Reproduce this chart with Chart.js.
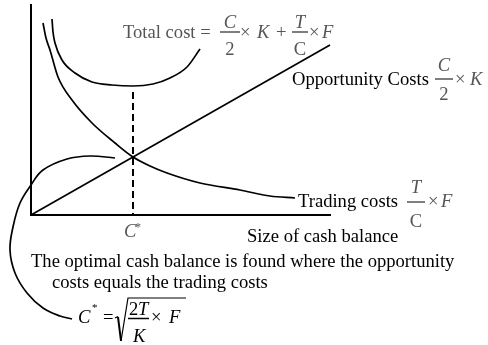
<!DOCTYPE html>
<html><head><meta charset="utf-8">
<script src="https://cdn.jsdelivr.net/npm/chart.js@4"></script>
<style>html,body{margin:0;padding:0;background:#fff}</style>
</head><body>
<canvas id="c" width="488" height="345"></canvas>
<script>
// Axis units: x = size of cash balance, y = cost (both)
const xMax = 299;
const yMax = 210;
const opportunityCosts = [[0, 0], [299, 170]];
const tradingCosts = [[12,192],[15,177],[19,165],[27,138],[41,115],[61,92],[84,72],[102,58],[119,49],[136,42],[169,32],[209,25],[239,19],[264,17]];
const totalCost = [[21,196],[22,183],[24,172],[31,155],[44,142],[61,133],[81,130],[102,129],[122,131],[139,137],[156,148],[169,166]];
const optimalC = 102;
const optimalMarker = [[optimalC, 123], [optimalC, 0]];
const bracketCurve = [[84,57],[59,59],[36,56],[12,45],[0,30],[-11,12],[-18,-12],[-21,-35],[-16,-58],[-4,-78],[12,-93],[29,-101],[41,-104]];

const pts = a => a.map(([x, y]) => ({x, y}));
const line = (data, extra) => Object.assign({
  data: pts(data), borderColor: '#000', borderWidth: 1.7, pointRadius: 0,
  fill: false, tension: 0.4, clip: false
}, extra || {});

const SERIF = '"Liberation Serif", "Times New Roman", serif';
const GRAY = '#555';
const FS = 18.6;

const textPlugin = {
  id: 'texts',
  afterDraw(chart) {
    const ctx = chart.ctx;
    ctx.save();
    ctx.textBaseline = 'alphabetic';
    const t = (s, x, y, color, italic, size, align) => {
      ctx.font = (italic ? 'italic ' : '') + (size || FS) + 'px ' + SERIF;
      ctx.fillStyle = color || '#000';
      ctx.textAlign = align || 'left';
      ctx.fillText(s, x, y);
    };
    const bar = (x1, x2, y, color) => {
      ctx.strokeStyle = color; ctx.lineWidth = 1.5;
      ctx.beginPath(); ctx.moveTo(x1, y); ctx.lineTo(x2, y); ctx.stroke();
    };
    const frac = (num, numIt, den, denIt, cx, x1, x2, by, nb, db, color) => {
      t(num, cx, nb, color, numIt, FS, 'center');
      t(den, cx, db, color, denIt, FS, 'center');
      bar(x1, x2, by, color);
    };
    // Total cost formula (gray)
    t('Total cost =', 123, 38, GRAY);
    frac('C', true, '2', false, 230, 220, 240, 32, 28, 55, GRAY);
    t('\u00D7', 240, 38, GRAY);
    t('K', 257, 38, GRAY, true);
    t('+', 276, 38, GRAY);
    frac('T', true, 'C', false, 300, 292, 308, 32, 28, 55, GRAY);
    t('\u00D7', 309, 38, GRAY);
    t('F', 322, 38, GRAY, true);
    // Opportunity costs
    t('Opportunity Costs', 292, 85, '#000');
    frac('C', true, '2', false, 444, 435, 453, 79, 71, 100, GRAY);
    t('\u00D7', 455, 85, GRAY);
    t('K', 470, 85, GRAY, true);
    // Trading costs
    t('Trading costs', 298, 207, '#000');
    frac('T', true, 'C', false, 416, 407, 425, 202, 193, 227, GRAY);
    t('\u00D7', 428, 207, GRAY);
    t('F', 441, 207, GRAY, true);
    // axis labels
    t('Size of cash balance', 247, 242, '#000');
    t('C', 124, 237, GRAY, true);
    t('*', 135, 231, GRAY, false, 12);
    // explanation
    t('The optimal cash balance is found where the opportunity', 31, 267, '#000');
    t('costs equals the trading costs', 52, 288, '#000');
    // formula
    t('C', 78, 323, '#000', true);
    t('*', 92, 311, '#000', false, 11);
    t('=', 103, 323, '#000');
    ctx.strokeStyle = '#000'; ctx.lineWidth = 1.3;
    ctx.beginPath();
    ctx.moveTo(115, 318); ctx.lineTo(118, 316.5); ctx.stroke();
    ctx.lineWidth = 2;
    ctx.beginPath(); ctx.moveTo(118, 317); ctx.lineTo(121, 341); ctx.stroke();
    ctx.lineWidth = 1.2;
    ctx.beginPath(); ctx.moveTo(121, 341); ctx.lineTo(128, 298); ctx.lineTo(186, 298); ctx.stroke();
    t('2', 129, 315, '#000');
    t('T', 138, 315, '#000', true);
    bar(128, 149, 318.5, '#000');
    t('K', 133, 342, '#000', true);
    t('\u00D7', 151, 323, '#000');
    t('F', 169, 323, '#000', true);
    ctx.restore();
  }
};

new Chart(document.getElementById('c'), {
  type: 'line',
  data: {
    datasets: [
      line(opportunityCosts, {tension: 0}),
      line(tradingCosts, {cubicInterpolationMode: 'monotone'}),
      line(totalCost, {cubicInterpolationMode: 'monotone'}),
      line(optimalMarker, {tension: 0, borderDash: [7, 4], borderWidth: 2}),
      line(bracketCurve)
    ]
  },
  options: {
    responsive: false,
    animation: false,
    devicePixelRatio: 1,
    layout: {padding: {left: 31, top: 5, right: 158, bottom: 130}},
    plugins: {legend: {display: false}, tooltip: {enabled: false}},
    scales: {
      x: {type: 'linear', min: 0, max: xMax,
          ticks: {display: false}, grid: {display: false, drawTicks: false},
          border: {display: true, color: '#000', width: 2}},
      y: {type: 'linear', min: 0, max: yMax,
          ticks: {display: false}, grid: {display: false, drawTicks: false},
          border: {display: true, color: '#000', width: 2}}
    }
  },
  plugins: [textPlugin]
});
</script>
</body></html>
